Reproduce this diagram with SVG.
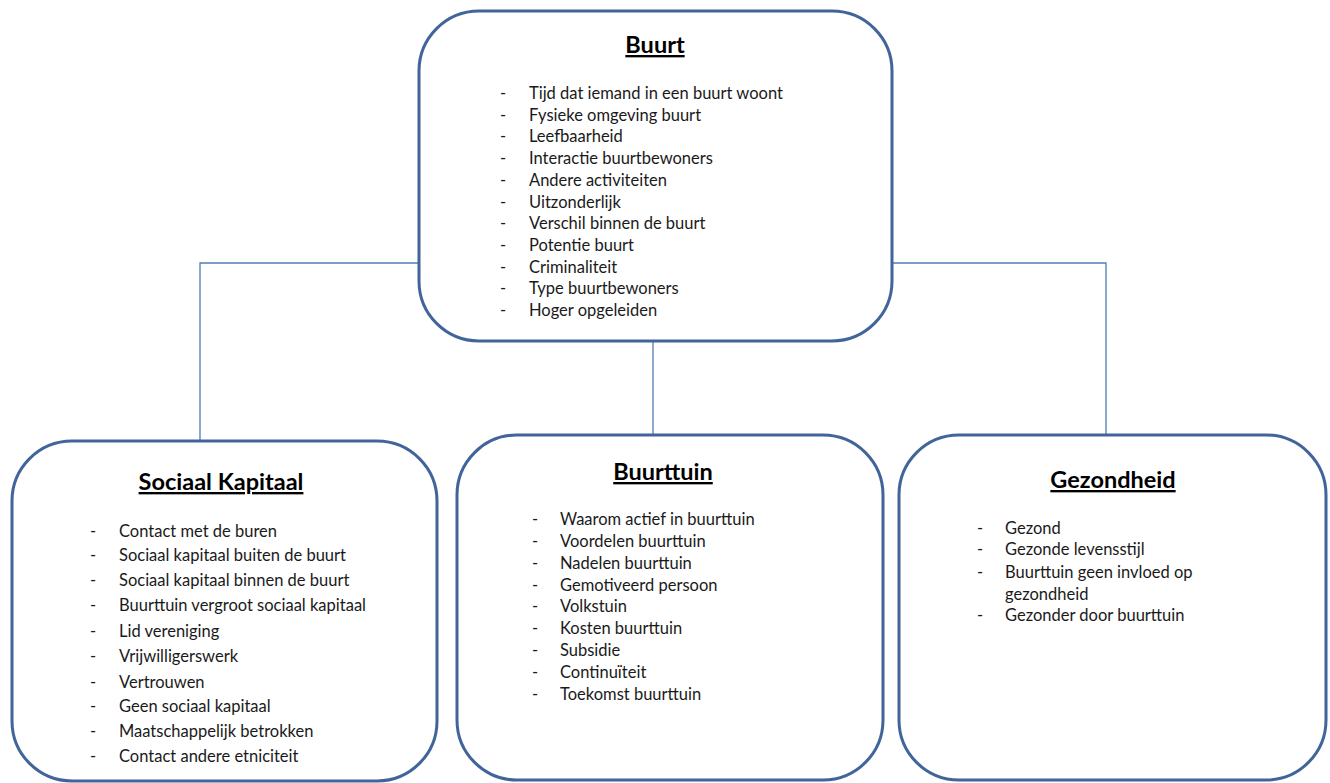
<svg xmlns="http://www.w3.org/2000/svg" width="1330" height="783" viewBox="0 0 1330 783">
<style>
.box{fill:#fff;stroke:#41659a;stroke-width:3}
.conn{fill:none;stroke:#4f7cb5;stroke-width:1.3}
.title{font-family:Lato,"Liberation Sans",sans-serif;font-weight:bold;font-size:23.5px;fill:#000;text-decoration:underline}
.item{font-family:Lato,"Liberation Sans",sans-serif;font-size:16.5px;fill:#1a1a1a}
</style>
<rect width="1330" height="783" fill="#fff"/>
<g id="connectors">
<polyline class="conn" points="418,263 200,263 200,441"/>
<polyline class="conn" points="892,263 1106,263 1106,435"/>
<line class="conn" x1="653" y1="342" x2="653" y2="435"/>
</g>
<g id="buurt">
<rect class="box" x="419" y="11" width="473" height="330" rx="60" ry="60"/>
<text class="title" x="655" y="53" text-anchor="middle">Buurt</text>
<g class="item">
<text x="500" y="99">-</text><text x="529" y="99">Tijd dat iemand in een buurt woont</text>
<text x="500" y="121">-</text><text x="529" y="121">Fysieke omgeving buurt</text>
<text x="500" y="142">-</text><text x="529" y="142">Leefbaarheid</text>
<text x="500" y="164">-</text><text x="529" y="164">Interactie buurtbewoners</text>
<text x="500" y="186">-</text><text x="529" y="186">Andere activiteiten</text>
<text x="500" y="208">-</text><text x="529" y="208">Uitzonderlijk</text>
<text x="500" y="229">-</text><text x="529" y="229">Verschil binnen de buurt</text>
<text x="500" y="251">-</text><text x="529" y="251">Potentie buurt</text>
<text x="500" y="273">-</text><text x="529" y="273">Criminaliteit</text>
<text x="500" y="294">-</text><text x="529" y="294">Type buurtbewoners</text>
<text x="500" y="316">-</text><text x="529" y="316">Hoger opgeleiden</text>
</g>
</g>
<g id="sociaal-kapitaal">
<rect class="box" x="12" y="441" width="425" height="340" rx="60" ry="60"/>
<text class="title" x="221" y="490" text-anchor="middle">Sociaal  Kapitaal</text>
<g class="item">
<text x="90" y="537">-</text><text x="119" y="537">Contact met de buren</text>
<text x="90" y="561">-</text><text x="119" y="561">Sociaal kapitaal buiten de buurt</text>
<text x="90" y="586">-</text><text x="119" y="586">Sociaal kapitaal binnen de buurt</text>
<text x="90" y="611">-</text><text x="119" y="611">Buurttuin vergroot sociaal kapitaal</text>
<text x="90" y="637">-</text><text x="119" y="637">Lid vereniging</text>
<text x="90" y="662">-</text><text x="119" y="662">Vrijwilligerswerk</text>
<text x="90" y="688">-</text><text x="119" y="688">Vertrouwen</text>
<text x="90" y="712">-</text><text x="119" y="712">Geen sociaal kapitaal</text>
<text x="90" y="737">-</text><text x="119" y="737">Maatschappelijk betrokken</text>
<text x="90" y="762">-</text><text x="119" y="762">Contact andere etniciteit</text>
</g>
</g>
<g id="buurttuin">
<rect class="box" x="457" y="435" width="426" height="345" rx="60" ry="60"/>
<text class="title" x="663" y="480" text-anchor="middle">Buurttuin</text>
<g class="item">
<text x="532" y="525">-</text><text x="560" y="525">Waarom actief in buurttuin</text>
<text x="532" y="547">-</text><text x="560" y="547">Voordelen buurttuin</text>
<text x="532" y="569">-</text><text x="560" y="569">Nadelen buurttuin</text>
<text x="532" y="591">-</text><text x="560" y="591">Gemotiveerd persoon</text>
<text x="532" y="612">-</text><text x="560" y="612">Volkstuin</text>
<text x="532" y="634">-</text><text x="560" y="634">Kosten buurttuin</text>
<text x="532" y="656">-</text><text x="560" y="656">Subsidie</text>
<text x="532" y="678">-</text><text x="560" y="678">Continuïteit</text>
<text x="532" y="700">-</text><text x="560" y="700">Toekomst buurttuin</text>
</g>
</g>
<g id="gezondheid">
<rect class="box" x="899" y="435" width="427" height="345" rx="60" ry="60"/>
<text class="title" x="1113" y="488" text-anchor="middle">Gezondheid</text>
<g class="item">
<text x="977" y="534">-</text><text x="1005" y="534">Gezond</text>
<text x="977" y="555">-</text><text x="1005" y="555">Gezonde levensstijl</text>
<text x="977" y="578">-</text><text x="1005" y="578">Buurttuin geen invloed op</text>
<text x="1005" y="600">gezondheid</text>
<text x="977" y="621">-</text><text x="1005" y="621">Gezonder door buurttuin</text>
</g>
</g>
</svg>
